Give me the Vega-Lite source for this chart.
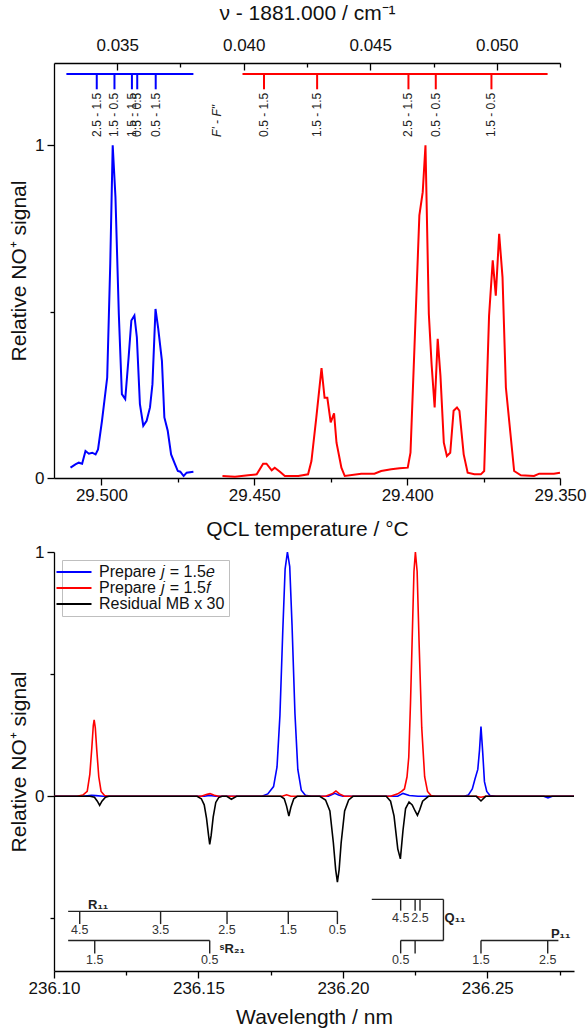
{
  "$schema": "https://vega.github.io/schema/vega-lite/v6.json",
  "padding": {"left": 8, "top": 2, "right": 5, "bottom": 2},
  "background": "white",
  "spacing": 74,
  "bounds": "flush",
  "resolve": {"legend": {"color": "independent"}, "scale": {"color": "independent"}},
  "datasets": {
    "qcl": [
      {"T":29.5101,"v":0.031,"s":"e"},{"T":29.5085,"v":0.041,"s":"e"},{"T":29.5074,"v":0.046,"s":"e"},{"T":29.5063,"v":0.043,"s":"e"},
      {"T":29.5052,"v":0.081,"s":"e"},{"T":29.5041,"v":0.073,"s":"e"},{"T":29.5030,"v":0.076,"s":"e"},{"T":29.5019,"v":0.071,"s":"e"},
      {"T":29.5011,"v":0.086,"s":"e"},{"T":29.4998,"v":0.172,"s":"e"},{"T":29.4981,"v":0.302,"s":"e"},{"T":29.4971,"v":0.644,"s":"e"},
      {"T":29.4963,"v":1.0,"s":"e"},{"T":29.4954,"v":0.844,"s":"e"},{"T":29.4943,"v":0.493,"s":"e"},{"T":29.4933,"v":0.252,"s":"e"},
      {"T":29.4922,"v":0.237,"s":"e"},{"T":29.4911,"v":0.362,"s":"e"},{"T":29.4902,"v":0.473,"s":"e"},{"T":29.4892,"v":0.488,"s":"e"},
      {"T":29.4884,"v":0.423,"s":"e"},{"T":29.4874,"v":0.222,"s":"e"},{"T":29.4863,"v":0.157,"s":"e"},{"T":29.4852,"v":0.172,"s":"e"},
      {"T":29.4841,"v":0.212,"s":"e"},{"T":29.4833,"v":0.282,"s":"e"},{"T":29.4823,"v":0.508,"s":"e"},{"T":29.4814,"v":0.448,"s":"e"},
      {"T":29.4802,"v":0.352,"s":"e"},{"T":29.4794,"v":0.182,"s":"e"},{"T":29.4783,"v":0.142,"s":"e"},{"T":29.4772,"v":0.071,"s":"e"},
      {"T":29.4759,"v":0.041,"s":"e"},{"T":29.4750,"v":0.021,"s":"e"},{"T":29.4742,"v":0.019,"s":"e"},{"T":29.4731,"v":0.006,"s":"e"},
      {"T":29.4721,"v":0.016,"s":"e"},{"T":29.4699,"v":0.019,"s":"e"},
      {"T":29.4604,"v":0.006,"s":"f"},{"T":29.4563,"v":0.004,"s":"f"},{"T":29.4520,"v":0.008,"s":"f"},{"T":29.4492,"v":0.011,"s":"f"},
      {"T":29.4471,"v":0.043,"s":"f"},{"T":29.4460,"v":0.043,"s":"f"},{"T":29.4443,"v":0.023,"s":"f"},{"T":29.4433,"v":0.031,"s":"f"},
      {"T":29.4416,"v":0.019,"s":"f"},{"T":29.4400,"v":0.006,"s":"f"},{"T":29.4356,"v":0.006,"s":"f"},{"T":29.4324,"v":0.011,"s":"f"},
      {"T":29.4313,"v":0.051,"s":"f"},{"T":29.4297,"v":0.182,"s":"f"},{"T":29.4280,"v":0.330,"s":"f"},{"T":29.4270,"v":0.241,"s":"f"},
      {"T":29.4261,"v":0.241,"s":"f"},{"T":29.4250,"v":0.167,"s":"f"},{"T":29.4239,"v":0.194,"s":"f"},{"T":29.4231,"v":0.106,"s":"f"},
      {"T":29.4215,"v":0.031,"s":"f"},{"T":29.4204,"v":0.006,"s":"f"},{"T":29.4150,"v":0.013,"s":"f"},{"T":29.4107,"v":0.013,"s":"f"},
      {"T":29.4085,"v":0.021,"s":"f"},{"T":29.4052,"v":0.026,"s":"f"},{"T":29.4025,"v":0.029,"s":"f"},{"T":29.3998,"v":0.031,"s":"f"},
      {"T":29.3989,"v":0.076,"s":"f"},{"T":29.3976,"v":0.393,"s":"f"},{"T":29.3960,"v":0.789,"s":"f"},{"T":29.3949,"v":0.859,"s":"f"},
      {"T":29.3940,"v":1.0,"s":"f"},{"T":29.3929,"v":0.493,"s":"f"},{"T":29.3920,"v":0.342,"s":"f"},{"T":29.3910,"v":0.212,"s":"f"},
      {"T":29.3900,"v":0.418,"s":"f"},{"T":29.3891,"v":0.307,"s":"f"},{"T":29.3880,"v":0.106,"s":"f"},{"T":29.3870,"v":0.066,"s":"f"},
      {"T":29.3859,"v":0.076,"s":"f"},{"T":29.3848,"v":0.202,"s":"f"},{"T":29.3837,"v":0.212,"s":"f"},{"T":29.3829,"v":0.202,"s":"f"},
      {"T":29.3815,"v":0.071,"s":"f"},{"T":29.3802,"v":0.016,"s":"f"},{"T":29.3780,"v":0.011,"s":"f"},{"T":29.3759,"v":0.011,"s":"f"},
      {"T":29.3748,"v":0.021,"s":"f"},{"T":29.3732,"v":0.488,"s":"f"},{"T":29.3720,"v":0.654,"s":"f"},{"T":29.3710,"v":0.548,"s":"f"},
      {"T":29.3699,"v":0.734,"s":"f"},{"T":29.3688,"v":0.603,"s":"f"},{"T":29.3677,"v":0.272,"s":"f"},{"T":29.3650,"v":0.021,"s":"f"},
      {"T":29.3628,"v":0.008,"s":"f"},{"T":29.3585,"v":0.006,"s":"f"},{"T":29.3568,"v":0.013,"s":"f"},{"T":29.3520,"v":0.013,"s":"f"},
      {"T":29.3500,"v":0.016,"s":"f"}
    ],
    "sticks": [
      {"set":"e","wn":0.03419,"label":"2.5 - 1.5"},{"set":"e","wn":0.03489,"label":"1.5 - 0.5"},
      {"set":"e","wn":0.03558,"label":"1.5 - 1.5"},{"set":"e","wn":0.03579,"label":"0.5 - 0.5"},
      {"set":"e","wn":0.03652,"label":"0.5 - 1.5"},
      {"set":"f","wn":0.04080,"label":"0.5 - 1.5"},{"set":"f","wn":0.04290,"label":"1.5 - 1.5"},
      {"set":"f","wn":0.04651,"label":"2.5 - 1.5"},{"set":"f","wn":0.04759,"label":"0.5 - 0.5"},
      {"set":"f","wn":0.04979,"label":"1.5 - 0.5"}
    ],
    "spans": [{"set":"e","wn":0.03299,"wn2":0.03801},{"set":"f","wn":0.03995,"wn2":0.05201}],
    "ff": [{"wn":0.03896,"label":"F' - F\""}],
    "spec": [
      {"lam":236.100,"v":0,"s":"e"},{"lam":236.110,"v":0,"s":"e"},{"lam":236.1130,"v":0.004,"s":"e"},{"lam":236.1145,"v":0.003,"s":"e"},
      {"lam":236.1170,"v":0,"s":"e"},{"lam":236.1520,"v":0,"s":"e"},{"lam":236.1539,"v":0.004,"s":"e"},{"lam":236.1560,"v":0,"s":"e"},
      {"lam":236.1720,"v":0,"s":"e"},{"lam":236.1740,"v":0.01,"s":"e"},{"lam":236.1760,"v":0.04,"s":"e"},{"lam":236.1772,"v":0.12,"s":"e"},
      {"lam":236.1782,"v":0.33,"s":"e"},{"lam":236.1792,"v":0.68,"s":"e"},{"lam":236.1800,"v":0.93,"s":"e"},{"lam":236.1808,"v":1.0,"s":"e"},
      {"lam":236.1816,"v":0.94,"s":"e"},{"lam":236.1824,"v":0.70,"s":"e"},{"lam":236.1834,"v":0.34,"s":"e"},{"lam":236.1844,"v":0.11,"s":"e"},
      {"lam":236.1856,"v":0.025,"s":"e"},{"lam":236.1870,"v":0.004,"s":"e"},{"lam":236.1890,"v":0,"s":"e"},{"lam":236.1950,"v":0,"s":"e"},
      {"lam":236.1972,"v":0.012,"s":"e"},{"lam":236.1985,"v":0.005,"s":"e"},{"lam":236.2000,"v":0,"s":"e"},{"lam":236.2190,"v":0,"s":"e"},
      {"lam":236.2208,"v":0.012,"s":"e"},{"lam":236.2230,"v":0.003,"s":"e"},{"lam":236.2260,"v":0,"s":"e"},{"lam":236.2420,"v":0,"s":"e"},
      {"lam":236.2434,"v":0.005,"s":"e"},{"lam":236.2448,"v":0.03,"s":"e"},{"lam":236.2457,"v":0.07,"s":"e"},{"lam":236.2467,"v":0.11,"s":"e"},
      {"lam":236.2473,"v":0.19,"s":"e"},{"lam":236.2478,"v":0.286,"s":"e"},{"lam":236.2484,"v":0.18,"s":"e"},{"lam":236.2490,"v":0.06,"s":"e"},
      {"lam":236.2498,"v":0.02,"s":"e"},{"lam":236.2509,"v":0.003,"s":"e"},{"lam":236.2530,"v":0,"s":"e"},{"lam":236.2695,"v":0,"s":"e"},
      {"lam":236.2710,"v":-0.006,"s":"e"},{"lam":236.2725,"v":0,"s":"e"},{"lam":236.2800,"v":0,"s":"e"},
      {"lam":236.100,"v":0,"s":"f"},{"lam":236.1080,"v":0,"s":"f"},{"lam":236.1100,"v":0.005,"s":"f"},{"lam":236.1115,"v":0.02,"s":"f"},
      {"lam":236.1124,"v":0.09,"s":"f"},{"lam":236.1131,"v":0.20,"s":"f"},{"lam":236.1136,"v":0.29,"s":"f"},{"lam":236.1139,"v":0.313,"s":"f"},
      {"lam":236.1143,"v":0.28,"s":"f"},{"lam":236.1148,"v":0.19,"s":"f"},{"lam":236.1155,"v":0.08,"s":"f"},{"lam":236.1163,"v":0.02,"s":"f"},
      {"lam":236.1175,"v":0.003,"s":"f"},{"lam":236.1190,"v":0,"s":"f"},{"lam":236.1510,"v":0,"s":"f"},{"lam":236.1530,"v":0.008,"s":"f"},
      {"lam":236.1540,"v":0.011,"s":"f"},{"lam":236.1555,"v":0.004,"s":"f"},{"lam":236.1570,"v":0,"s":"f"},{"lam":236.1790,"v":0,"s":"f"},
      {"lam":236.1805,"v":0.006,"s":"f"},{"lam":236.1820,"v":0,"s":"f"},{"lam":236.1940,"v":0,"s":"f"},{"lam":236.1965,"v":0.012,"s":"f"},
      {"lam":236.1976,"v":0.022,"s":"f"},{"lam":236.1988,"v":0.01,"s":"f"},{"lam":236.2005,"v":0,"s":"f"},{"lam":236.2165,"v":0,"s":"f"},
      {"lam":236.2190,"v":0.01,"s":"f"},{"lam":236.2203,"v":0.02,"s":"f"},{"lam":236.2213,"v":0.03,"s":"f"},{"lam":236.2222,"v":0.08,"s":"f"},
      {"lam":236.2228,"v":0.16,"s":"f"},{"lam":236.2234,"v":0.38,"s":"f"},{"lam":236.2240,"v":0.65,"s":"f"},{"lam":236.2246,"v":0.92,"s":"f"},
      {"lam":236.2251,"v":1.0,"s":"f"},{"lam":236.2257,"v":0.92,"s":"f"},{"lam":236.2264,"v":0.62,"s":"f"},{"lam":236.2273,"v":0.28,"s":"f"},
      {"lam":236.2283,"v":0.08,"s":"f"},{"lam":236.2293,"v":0.02,"s":"f"},{"lam":236.2305,"v":0.003,"s":"f"},{"lam":236.2320,"v":0,"s":"f"},
      {"lam":236.2460,"v":0,"s":"f"},{"lam":236.2478,"v":-0.004,"s":"f"},{"lam":236.2495,"v":0,"s":"f"},{"lam":236.2800,"v":0,"s":"f"},
      {"lam":236.1000,"v":0,"s":"r"},{"lam":236.1125,"v":0,"s":"r"},{"lam":236.1140,"v":-0.004,"s":"r"},{"lam":236.1150,"v":-0.02,"s":"r"},
      {"lam":236.1158,"v":-0.037,"s":"r"},{"lam":236.1166,"v":-0.02,"s":"r"},{"lam":236.1178,"v":-0.004,"s":"r"},{"lam":236.1190,"v":0,"s":"r"},
      {"lam":236.1495,"v":0,"s":"r"},{"lam":236.1510,"v":-0.01,"s":"r"},{"lam":236.1520,"v":-0.035,"s":"r"},{"lam":236.1528,"v":-0.09,"s":"r"},
      {"lam":236.1535,"v":-0.16,"s":"r"},{"lam":236.1539,"v":-0.197,"s":"r"},{"lam":236.1544,"v":-0.16,"s":"r"},{"lam":236.1551,"v":-0.085,"s":"r"},
      {"lam":236.1560,"v":-0.025,"s":"r"},{"lam":236.1570,"v":-0.005,"s":"r"},{"lam":236.1582,"v":0,"s":"r"},{"lam":236.1598,"v":0,"s":"r"},
      {"lam":236.1614,"v":-0.012,"s":"r"},{"lam":236.1632,"v":0,"s":"r"},{"lam":236.1785,"v":0,"s":"r"},{"lam":236.1797,"v":-0.01,"s":"r"},
      {"lam":236.1805,"v":-0.04,"s":"r"},{"lam":236.1813,"v":-0.081,"s":"r"},{"lam":236.1820,"v":-0.045,"s":"r"},{"lam":236.1830,"v":-0.01,"s":"r"},
      {"lam":236.1842,"v":0,"s":"r"},{"lam":236.1920,"v":0,"s":"r"},{"lam":236.1940,"v":-0.015,"s":"r"},{"lam":236.1955,"v":-0.06,"s":"r"},
      {"lam":236.1967,"v":-0.19,"s":"r"},{"lam":236.1975,"v":-0.30,"s":"r"},{"lam":236.1981,"v":-0.351,"s":"r"},{"lam":236.1987,"v":-0.30,"s":"r"},
      {"lam":236.1994,"v":-0.19,"s":"r"},{"lam":236.2006,"v":-0.06,"s":"r"},{"lam":236.2020,"v":-0.015,"s":"r"},{"lam":236.2035,"v":0,"s":"r"},
      {"lam":236.2150,"v":0,"s":"r"},{"lam":236.2165,"v":-0.02,"s":"r"},{"lam":236.2177,"v":-0.08,"s":"r"},{"lam":236.2190,"v":-0.215,"s":"r"},
      {"lam":236.2199,"v":-0.256,"s":"r"},{"lam":236.2208,"v":-0.14,"s":"r"},{"lam":236.2217,"v":-0.05,"s":"r"},{"lam":236.2229,"v":-0.023,"s":"r"},
      {"lam":236.2240,"v":-0.035,"s":"r"},{"lam":236.2250,"v":-0.06,"s":"r"},{"lam":236.2258,"v":-0.078,"s":"r"},{"lam":236.2266,"v":-0.055,"s":"r"},
      {"lam":236.2276,"v":-0.02,"s":"r"},{"lam":236.2296,"v":0,"s":"r"},{"lam":236.2462,"v":0,"s":"r"},{"lam":236.2478,"v":-0.019,"s":"r"},
      {"lam":236.2494,"v":0,"s":"r"},{"lam":236.2800,"v":0,"s":"r"}
    ],
    "bars": [
      {"br":"R11","lam":236.1049,"lam2":236.1981,"tier":"R"},
      {"br":"sR21","lam":236.1049,"lam2":236.1539,"tier":"L"},
      {"br":"Q11u","lam":236.2100,"lam2":236.2348,"tier":"U"},
      {"br":"Q11l","lam":236.2200,"lam2":236.2348,"tier":"L"},
      {"br":"P11","lam":236.2478,"lam2":236.2746,"tier":"L"}
    ],
    "marks": [
      {"br":"R11","J":"4.5","lam":236.1089,"tier":"R","shown":true},
      {"br":"R11","J":"3.5","lam":236.1369,"tier":"R","shown":true},
      {"br":"R11","J":"2.5","lam":236.1599,"tier":"R","shown":true},
      {"br":"R11","J":"1.5","lam":236.1811,"tier":"R","shown":true},
      {"br":"R11","J":"0.5","lam":236.1981,"tier":"R","shown":true},
      {"br":"sR21","J":"1.5","lam":236.1141,"tier":"L","shown":true},
      {"br":"sR21","J":"0.5","lam":236.1539,"tier":"L","shown":true},
      {"br":"Q11l","J":"0.5","lam":236.2200,"tier":"L","shown":true},
      {"br":"Q11l","J":"1.5","lam":236.2250,"tier":"L","shown":false},
      {"br":"P11","J":"1.5","lam":236.2478,"tier":"L","shown":true},
      {"br":"P11","J":"2.5","lam":236.2709,"tier":"L","shown":true},
      {"br":"Q11u","J":"4.5","lam":236.2200,"tier":"U","shown":true},
      {"br":"Q11u","J":"3.5","lam":236.2250,"tier":"U","shown":false},
      {"br":"Q11u","J":"2.5","lam":236.2267,"tier":"U","shown":true}
    ],
    "conn": [{"lam":236.2348}],
    "branches": [
      {"name":"R₁₁","lam":236.1118,"tier":"R"},
      {"name":"ˢR₂₁","lam":236.1573,"tier":"S"},
      {"name":"Q₁₁","lam":236.2352,"tier":"Q"},
      {"name":"P₁₁","lam":236.2720,"tier":"P"}
    ]
  },
  "vconcat": [
    {
      "width": 506,
      "height": 415,
      "layer": [
        {
          "data": {"name": "qcl"},
          "encoding": {
            "x": {"field": "T", "type": "quantitative",
              "scale": {"domain": [29.35, 29.5155], "reverse": true, "nice": false, "zero": false},
              "axis": {"title": "QCL temperature / °C", "values": [29.5, 29.475, 29.45, 29.425, 29.4, 29.375, 29.35], "format": ".3f",
                "labelExpr": "abs(datum.value*20 - round(datum.value*20)) < 0.01 ? datum.label : ''",
                "tickSize": {"condition": {"test": "abs(datum.value*20 - round(datum.value*20)) < 0.01", "value": 7}, "value": 4},
                "labelFlush": false, "labelOverlap": false, "labelPadding": 2, "titlePadding": 15}},
            "y": {"field": "v", "type": "quantitative",
              "scale": {"domain": [0, 1.247], "nice": false},
              "axis": {"title": "Relative NO⁺ signal", "values": [0, 0.5, 1],
                "labelExpr": "datum.value == 0 ? '0' : datum.value == 1 ? '1' : ''",
                "tickSize": {"condition": {"test": "datum.value == 0.5", "value": 4}, "value": 7},
                "labelPadding": 3, "titlePadding": 5}}
          },
          "layer": [
            {"transform": [{"filter": "datum.s == 'e'"}], "mark": {"type": "line", "color": "#0000ff", "strokeWidth": 2}},
            {"transform": [{"filter": "datum.s == 'f'"}], "mark": {"type": "line", "color": "#ff0000", "strokeWidth": 2}}
          ]
        },
        {
          "encoding": {
            "x": {"field": "wn", "type": "quantitative",
              "scale": {"domain": [0.0325, 0.0525], "nice": false, "zero": false},
              "axis": {"orient": "top", "title": "ν - 1881.000 / cm⁻¹", "values": [0.035, 0.0375, 0.04, 0.0425, 0.045, 0.0475, 0.05, 0.0525], "format": ".3f",
                "labelExpr": "abs(datum.value*200 - round(datum.value*200)) < 0.01 ? datum.label : ''",
                "tickSize": {"condition": {"test": "abs(datum.value*200 - round(datum.value*200)) < 0.01", "value": -7}, "value": -4},
                "labelFlush": false, "labelOverlap": false, "labelPadding": 16, "titlePadding": 10}}
          },
          "layer": [
            {"data": {"name": "spans"}, "mark": {"type": "rule", "strokeWidth": 2},
              "encoding": {"x2": {"field": "wn2"}, "y": {"datum": 1.214, "type": "quantitative"},
                "color": {"condition": {"test": "datum.set == 'e'", "value": "#0000ff"}, "value": "#ff0000"}}},
            {"data": {"name": "sticks"}, "mark": {"type": "rule", "strokeWidth": 2},
              "encoding": {"y": {"datum": 1.214, "type": "quantitative"}, "y2": {"datum": 1.168},
                "color": {"condition": {"test": "datum.set == 'e'", "value": "#0000ff"}, "value": "#ff0000"}}},
            {"data": {"name": "sticks"}, "mark": {"type": "text", "angle": 270, "align": "left", "baseline": "middle", "fontSize": 12, "color": "#222"},
              "encoding": {"y": {"datum": 1.025, "type": "quantitative"}, "text": {"field": "label"}}},
            {"data": {"name": "ff"}, "mark": {"type": "text", "angle": 270, "align": "left", "baseline": "middle", "fontSize": 12, "fontStyle": "italic", "color": "#222"},
              "encoding": {"y": {"datum": 1.025, "type": "quantitative"}, "text": {"field": "label"}}}
          ]
        }
      ],
      "resolve": {"scale": {"x": "independent"}, "axis": {"x": "independent"}}
    },
    {
      "width": 520,
      "height": 419,
      "layer": [
        {
          "data": {"name": "spec"},
          "mark": {"type": "line", "strokeWidth": 1.6},
          "encoding": {
            "x": {"field": "lam", "type": "quantitative",
              "scale": {"domain": [236.1, 236.28], "nice": false, "zero": false},
              "axis": {"title": "Wavelength / nm", "values": [236.1, 236.125, 236.15, 236.175, 236.2, 236.225, 236.25, 236.275], "format": ".2f",
                "labelExpr": "abs(datum.value*20 - round(datum.value*20)) < 0.01 ? datum.label : ''",
                "tickSize": {"condition": {"test": "abs(datum.value*20 - round(datum.value*20)) < 0.01", "value": 7}, "value": 4},
                "labelFlush": false, "labelOverlap": false, "labelPadding": 2, "titlePadding": 10}},
            "y": {"field": "v", "type": "quantitative",
              "scale": {"domain": [-0.715, 1.0], "nice": false},
              "axis": {"title": "Relative NO⁺ signal", "values": [-0.5, 0, 0.5, 1],
                "labelExpr": "datum.value == 0 ? '0' : datum.value == 1 ? '1' : ''",
                "tickSize": {"condition": {"test": "abs(datum.value) == 0.5", "value": 4}, "value": 7},
                "labelPadding": 3, "titlePadding": 5}},
            "color": {"field": "s", "type": "nominal",
              "scale": {"domain": ["e", "f", "r"], "range": ["#0000ff", "#ff0000", "#000000"]},
              "legend": {"title": null, "orient": "top-left", "offset": 8, "symbolType": "M-3.5,0H3.5", "symbolStrokeWidth": 2.2, "symbolSize": 100,
                "labelFontSize": 16, "labelColor": "#111", "strokeColor": "#bfbfbf", "fillColor": "#ffffff", "padding": 4, "rowPadding": 0, "labelOffset": 17, "labelLimit": 300,
                "labelExpr": "datum.label == 'e' ? 'Prepare 𝑗 = 1.5𝑒' : datum.label == 'f' ? 'Prepare 𝑗 = 1.5𝑓' : 'Residual MB x 30'"}}
          }
        },
        {"data": {"name": "bars"}, "transform": [{"filter": "datum.tier == 'U'"}], "mark": {"type": "rule", "color": "#222", "strokeWidth": 1.4},
          "encoding": {"x": {"field": "lam", "type": "quantitative"}, "x2": {"field": "lam2"}, "y": {"datum": -0.422, "type": "quantitative"}}},
        {"data": {"name": "bars"}, "transform": [{"filter": "datum.tier == 'R'"}], "mark": {"type": "rule", "color": "#222", "strokeWidth": 1.4},
          "encoding": {"x": {"field": "lam", "type": "quantitative"}, "x2": {"field": "lam2"}, "y": {"datum": -0.471, "type": "quantitative"}}},
        {"data": {"name": "bars"}, "transform": [{"filter": "datum.tier == 'L'"}], "mark": {"type": "rule", "color": "#222", "strokeWidth": 1.4},
          "encoding": {"x": {"field": "lam", "type": "quantitative"}, "x2": {"field": "lam2"}, "y": {"datum": -0.59, "type": "quantitative"}}},
        {"data": {"name": "marks"}, "transform": [{"filter": "datum.tier == 'U'"}], "mark": {"type": "rule", "color": "#222", "strokeWidth": 1.4},
          "encoding": {"x": {"field": "lam", "type": "quantitative"}, "y": {"datum": -0.422, "type": "quantitative"}, "y2": {"datum": -0.468}}},
        {"data": {"name": "marks"}, "transform": [{"filter": "datum.tier == 'R'"}], "mark": {"type": "rule", "color": "#222", "strokeWidth": 1.4},
          "encoding": {"x": {"field": "lam", "type": "quantitative"}, "y": {"datum": -0.471, "type": "quantitative"}, "y2": {"datum": -0.523}}},
        {"data": {"name": "marks"}, "transform": [{"filter": "datum.tier == 'L'"}], "mark": {"type": "rule", "color": "#222", "strokeWidth": 1.4},
          "encoding": {"x": {"field": "lam", "type": "quantitative"}, "y": {"datum": -0.59, "type": "quantitative"}, "y2": {"datum": -0.643}}},
        {"data": {"name": "conn"}, "mark": {"type": "rule", "color": "#222", "strokeWidth": 1.4},
          "encoding": {"x": {"field": "lam", "type": "quantitative"}, "y": {"datum": -0.422, "type": "quantitative"}, "y2": {"datum": -0.59}}},
        {"data": {"name": "marks"}, "transform": [{"filter": "datum.tier == 'U' && datum.shown"}], "mark": {"type": "text", "fontSize": 12.5, "color": "#333", "baseline": "middle"},
          "encoding": {"x": {"field": "lam", "type": "quantitative"}, "y": {"datum": -0.497, "type": "quantitative"}, "text": {"field": "J"}}},
        {"data": {"name": "marks"}, "transform": [{"filter": "datum.tier == 'R' && datum.shown"}], "mark": {"type": "text", "fontSize": 12.5, "color": "#333", "baseline": "middle"},
          "encoding": {"x": {"field": "lam", "type": "quantitative"}, "y": {"datum": -0.547, "type": "quantitative"}, "text": {"field": "J"}}},
        {"data": {"name": "marks"}, "transform": [{"filter": "datum.tier == 'L' && datum.shown"}], "mark": {"type": "text", "fontSize": 12.5, "color": "#333", "baseline": "middle"},
          "encoding": {"x": {"field": "lam", "type": "quantitative"}, "y": {"datum": -0.668, "type": "quantitative"}, "text": {"field": "J"}}},
        {"data": {"name": "branches"}, "transform": [{"filter": "datum.tier == 'R'"}], "mark": {"type": "text", "fontSize": 13, "fontWeight": "bold", "color": "#222", "align": "left", "baseline": "middle"},
          "encoding": {"x": {"field": "lam", "type": "quantitative"}, "y": {"datum": -0.443, "type": "quantitative"}, "text": {"field": "name"}}},
        {"data": {"name": "branches"}, "transform": [{"filter": "datum.tier == 'S'"}], "mark": {"type": "text", "fontSize": 13, "fontWeight": "bold", "color": "#222", "align": "left", "baseline": "middle"},
          "encoding": {"x": {"field": "lam", "type": "quantitative"}, "y": {"datum": -0.626, "type": "quantitative"}, "text": {"field": "name"}}},
        {"data": {"name": "branches"}, "transform": [{"filter": "datum.tier == 'Q'"}], "mark": {"type": "text", "fontSize": 13, "fontWeight": "bold", "color": "#222", "align": "left", "baseline": "middle"},
          "encoding": {"x": {"field": "lam", "type": "quantitative"}, "y": {"datum": -0.5, "type": "quantitative"}, "text": {"field": "name"}}},
        {"data": {"name": "branches"}, "transform": [{"filter": "datum.tier == 'P'"}], "mark": {"type": "text", "fontSize": 13, "fontWeight": "bold", "color": "#222", "align": "left", "baseline": "middle"},
          "encoding": {"x": {"field": "lam", "type": "quantitative"}, "y": {"datum": -0.565, "type": "quantitative"}, "text": {"field": "name"}}}
      ]
    }
  ],
  "config": {
    "font": "Liberation Sans",
    "view": {"stroke": null},
    "axis": {"domainColor": "#000", "domainWidth": 1.3, "tickColor": "#000", "tickWidth": 1.3, "labelColor": "#111", "titleColor": "#111",
      "labelFontSize": 17, "titleFontSize": 21, "titleFontWeight": "normal", "grid": false, "labelFont": "Liberation Sans", "titleFont": "Liberation Sans"},
    "text": {"font": "Liberation Sans"}
  }
}
